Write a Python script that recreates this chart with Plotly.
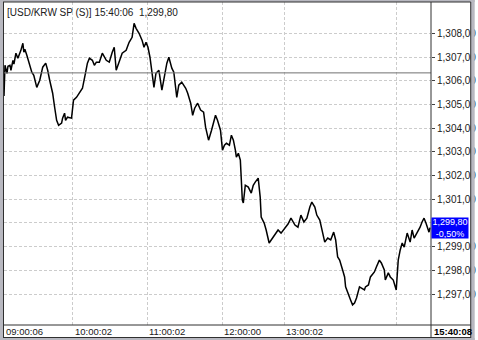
import plotly.graph_objects as go

# ---- data (tick sequence number, price) ----
seq = [0, 1, 3, 4, 6, 7, 9, 10, 12, 14,
       17, 19, 20, 21, 23, 25, 28, 30, 33, 36,
       39, 42, 44, 46, 49, 51, 53, 55, 58, 59,
       61, 62, 64, 68, 70, 73, 76, 79, 82, 84,
       86, 89, 91, 93, 96, 99, 103, 106, 109, 111,
       113, 114, 116, 119, 123, 126, 129, 131, 133, 136,
       139, 141, 143, 145, 147, 149, 151, 153, 156, 159,
       162, 164, 166, 169, 171, 174, 176, 179, 183, 185,
       188, 190, 192, 195, 198, 201, 203, 206, 209, 213,
       215, 218, 220, 222, 224, 227, 229, 231, 233, 234,
       236, 238, 240, 241, 243, 246, 249, 251, 253, 256,
       258, 259, 262, 264, 267, 269, 273, 276, 279, 283,
       286, 289, 293, 296, 299, 302, 305, 308, 310, 313,
       315, 318, 320, 323, 326, 329, 332, 334, 336, 338,
       341, 343, 344, 346, 349, 351, 353, 355, 358, 360,
       363, 364, 367, 369, 373, 375, 378, 380, 383, 384,
       387, 389, 392, 395, 397, 399, 401, 403, 406, 409,
       411, 413, 416, 419, 421, 423, 425, 428, 429]
price = [1305.35, 1306.65, 1306.31, 1306.61, 1306.65, 1306.44, 1306.86, 1306.70, 1307.16, 1306.95,
         1307.28, 1307.58, 1307.20, 1307.33, 1307.07, 1306.78, 1306.36, 1306.23, 1305.72, 1306.02,
         1306.57, 1306.74, 1306.44, 1306.02, 1305.47, 1304.88, 1304.33, 1304.12, 1304.21, 1304.42,
         1304.63, 1304.33, 1304.46, 1304.42, 1305.18, 1305.30, 1305.51, 1305.68, 1306.31, 1306.74,
         1306.95, 1306.86, 1306.65, 1306.78, 1306.78, 1307.16, 1306.86, 1306.78, 1307.20, 1307.41,
         1306.44, 1306.57, 1306.86, 1307.16, 1307.28, 1307.62, 1307.83, 1308.42, 1308.21, 1308.00,
         1307.71, 1307.41, 1307.62, 1307.41, 1306.99, 1306.44, 1305.72, 1306.31, 1306.44, 1305.60,
         1306.31, 1306.74, 1306.99, 1306.53, 1306.36, 1305.30, 1305.81, 1305.94, 1305.68, 1305.47,
         1305.05, 1304.54, 1304.84, 1305.05, 1304.76, 1304.67, 1304.04, 1303.49, 1303.91, 1304.54,
         1304.33, 1303.91, 1303.07, 1303.28, 1303.36, 1303.28, 1303.70, 1303.49, 1303.07, 1302.77,
         1302.94, 1302.65, 1300.96, 1300.84, 1301.59, 1301.51, 1301.26, 1301.59, 1301.72, 1301.89,
         1301.09, 1300.25, 1299.99, 1299.70, 1299.15, 1299.28, 1299.49, 1299.70, 1299.57, 1299.82,
         1299.95, 1300.20, 1299.91, 1299.82, 1300.33, 1300.04, 1300.20, 1300.67, 1300.88, 1300.67,
         1300.33, 1300.12, 1299.70, 1299.19, 1299.36, 1299.28, 1299.61, 1299.28, 1298.56, 1298.43,
         1298.01, 1297.72, 1297.30, 1297.04, 1296.75, 1296.54, 1296.62, 1296.83, 1297.30, 1297.25,
         1297.17, 1297.30, 1297.38, 1297.72, 1297.93, 1298.14, 1298.43, 1298.31, 1298.01, 1297.59,
         1297.89, 1297.72, 1297.59, 1297.17, 1298.43, 1298.86, 1299.15, 1298.98, 1299.57, 1299.19,
         1299.70, 1299.36, 1299.57, 1299.82, 1300.04, 1300.20, 1299.99, 1299.61, 1299.80]

prev_close = 1306.33
last_price = 1299.80
change_pct = -0.50
title_text = "[USD/KRW SP (S)] 15:40:06  1,299,80"
x_tick_seq = [0, 69, 144, 220, 282, 395]
x_tick_text = ["09:00:06", "10:00:02", "11:00:02", "12:00:00", "13:00:02", ""]
last_time = "15:40:08"
y_ticks = [1297, 1298, 1299, 1300, 1301, 1302, 1303, 1304, 1305, 1306, 1307, 1308]
y_tick_hidden = [1300]  # covered by the last-price box in the reference


def kfmt(v):
    return f"{v:,.2f}".replace(".", ",")


W, H = 478, 340
L, R, T, B = 4, 44, 2, 15
PW, PH = W - L - R, H - T - B


def px(x):
    return (x - L) / PW


def py(y):
    return (H - B - y) / PH


FONT = "Liberation Sans"
fig = go.Figure()
fig.add_trace(go.Scatter(x=seq, y=price, mode="lines",
                         line=dict(color="black", width=1.5),
                         hoverinfo="skip", showlegend=False))

shapes = []
# previous close line
shapes.append(dict(type="line", xref="paper", yref="y", x0=0, x1=1,
                   y0=prev_close, y1=prev_close,
                   line=dict(color="#707070", width=1), layer="above"))
# frame bands
band = "#b8b8c0"
for (x0, y0, x1, y1) in [(0, 0, W, 2), (0, 0, 3, H), (474, 0, W, H), (0, 338, W, H)]:
    shapes.append(dict(type="rect", xref="paper", yref="paper",
                       x0=px(x0), x1=px(x1), y0=py(y0), y1=py(y1),
                       fillcolor=band, line=dict(width=0), layer="above"))
dark = "#303030"
for (x0, y0, x1, y1) in [(3.5, 2, 3.5, 338), (474, 2, 474, 338), (3, 2, 474, 2),
                         (3, 337.5, 474, 337.5), (434, 2, 434, 338), (3, 325, 474, 325)]:
    shapes.append(dict(type="line", xref="paper", yref="paper",
                       x0=px(x0), x1=px(x1), y0=py(y0), y1=py(y1),
                       line=dict(color=dark, width=1), layer="above"))

annotations = []
annotations.append(dict(text=title_text, xref="paper", yref="paper",
                        x=px(5), y=py(12), xanchor="left", yanchor="middle",
                        showarrow=False, font=dict(family=FONT, size=10, color="#202020")))
for xv, t in zip(x_tick_seq, x_tick_text):
    if t:
        annotations.append(dict(text=t, xref="x", yref="paper", x=xv, y=py(331.5),
                                xanchor="left", yanchor="middle", showarrow=False,
                                font=dict(family=FONT, size=9.5, color="#202020")))
annotations.append(dict(text=f"<b>{last_time}</b>", xref="paper", yref="paper",
                        x=px(435), y=py(331.5), xanchor="left", yanchor="middle",
                        showarrow=False, font=dict(family=FONT, size=9.5, color="black")))
annotations.append(dict(text=f"{kfmt(last_price)}<br>{change_pct:.2f}%".replace(".", ","),
                        xref="paper", yref="y", x=1, y=last_price,
                        xanchor="left", yanchor="middle", showarrow=False,
                        bgcolor="#0000ff", width=36, height=20, borderpad=0,
                        font=dict(family=FONT, size=9, color="white")))

fig.update_layout(
    width=W, height=H, margin=dict(l=L, r=R, t=T, b=B),
    paper_bgcolor="white", plot_bgcolor="white",
    shapes=shapes, annotations=annotations,
    xaxis=dict(range=[0, PW], tickvals=x_tick_seq, showticklabels=False,
               showgrid=True, gridcolor="#cccccc", griddash="3px,2px", gridwidth=1,
               zeroline=False, showline=False, ticks=""),
    yaxis=dict(range=[1297 - 31 / 23.7, 1297 + (325 - 2 - 31) / 23.7], side="right",
               tickvals=y_ticks,
               ticktext=["" if v in y_tick_hidden else kfmt(v) for v in y_ticks],
               showgrid=True, gridcolor="#cccccc", griddash="3px,2px", gridwidth=1,
               zeroline=False, showline=False, ticks="outside", ticklen=3,
               tickcolor="#404040", ticklabelstandoff=0,
               tickfont=dict(family=FONT, size=10, color="#202020")),
)
fig.write_html("out.html")
